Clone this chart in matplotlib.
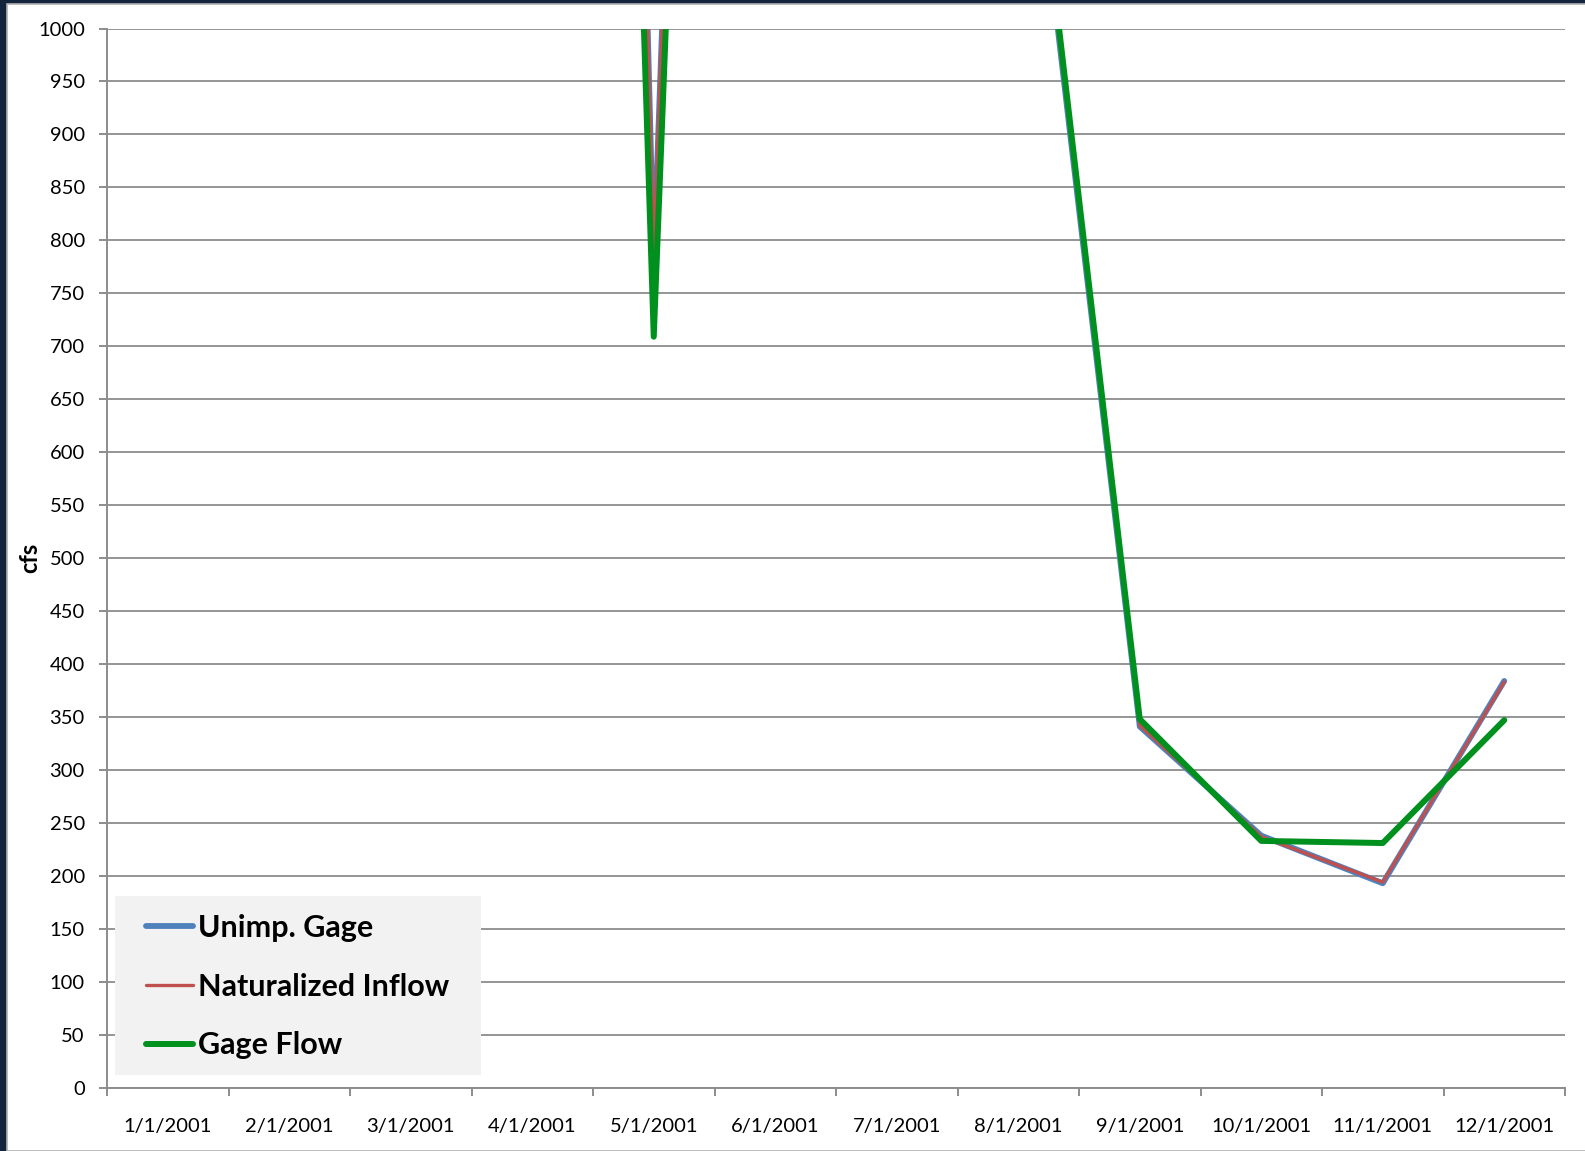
import matplotlib
matplotlib.use("Agg")
import matplotlib.pyplot as plt
from matplotlib.patches import Rectangle

# Monthly flows (cfs), 2001
months = ["1/1/2001", "2/1/2001", "3/1/2001", "4/1/2001", "5/1/2001", "6/1/2001",
          "7/1/2001", "8/1/2001", "9/1/2001", "10/1/2001", "11/1/2001", "12/1/2001"]
unimp_gage = [1650, 1900, 2600, 5200, 780, 4000, 2400, 1318, 341, 238, 193, 384]
naturalized_inflow = [1640, 1890, 2580, 5100, 785, 3950, 2380, 1322, 342, 237, 194, 383]
gage_flow = [1600, 1850, 2500, 4300, 709, 3650, 2300, 1330, 348, 233, 231, 347]

y_ticks = list(range(0, 1001, 50))

FONT = ["Lato", "DejaVu Sans"]
plt.rcParams["font.family"] = FONT

W, H = 1585, 1151
fig = plt.figure(figsize=(W / 100, H / 100), dpi=100, facecolor="#13253b")

# white slide panel on the dark background
fig.patches.append(Rectangle((7 / W, 0), 1.0, (H - 4) / H, transform=fig.transFigure,
                             facecolor="white", edgecolor="#b0b0b0", linewidth=1.2, zorder=-5))

ax = fig.add_axes([107 / W, (H - 1087.7) / H, (1565 - 107) / W, (1087.7 - 28.5) / H])
ax.set_zorder(2)
ax.set_facecolor("white")

x = list(range(len(months)))
ax.plot(x, unimp_gage, color="#4F81BD", lw=4.2, solid_capstyle="round",
        solid_joinstyle="round", label="Unimp. Gage", zorder=3)
ax.plot(x, naturalized_inflow, color="#C0504D", lw=2.4, solid_capstyle="round",
        solid_joinstyle="round", label="Naturalized Inflow", zorder=4)
ax.plot(x, gage_flow, color="#00901E", lw=4.3, solid_capstyle="round",
        solid_joinstyle="round", label="Gage Flow", zorder=5)

ax.set_ylim(0, 1000)
ax.set_xlim(-0.5, len(months) - 0.5)
ax.set_yticks(y_ticks)
ax.set_yticklabels([str(v) for v in y_ticks])

# category boundaries carry tick marks, labels sit at category centres
ax.set_xticks([i - 0.5 for i in range(len(months) + 1)])
ax.set_xticklabels([])
ax.set_xticks(x, minor=True)
ax.set_xticklabels(months, minor=True)
ax.tick_params(axis="x", which="major", length=6, width=1.4, color="#8c8c8c", direction="out")
ax.tick_params(axis="x", which="minor", length=0, pad=22, labelsize=14.5, labelcolor="black")
ax.tick_params(axis="y", length=6, width=1.4, color="#8c8c8c", direction="out", pad=10,
               labelsize=14.5, labelcolor="black")

ax.grid(axis="y", color="#8c8c8c", linewidth=1.3, zorder=1)
ax.set_axisbelow(True)
for side in ("top", "right"):
    ax.spines[side].set_visible(False)
for side in ("left", "bottom"):
    ax.spines[side].set_color("#8c8c8c")
    ax.spines[side].set_linewidth(1.4)

ax.set_ylabel("cfs", fontsize=17, fontweight="bold")
ax.yaxis.set_label_coords(-0.045, 0.5)

# legend panel
ax.add_patch(Rectangle((0.0055, 0.012), 0.251, 0.169, transform=ax.transAxes,
                       facecolor="#F2F2F2", edgecolor="none", zorder=6))
leg = ax.legend(loc="center left", bbox_to_anchor=(0.0265, 0.0954), borderaxespad=0,
                borderpad=0, frameon=False,
                prop={"family": FONT, "weight": "bold", "size": 22},
                handlelength=1.55, handletextpad=0.17, labelspacing=1.0)
leg.set_zorder(7)

fig.savefig("out.png", dpi=100, facecolor=fig.get_facecolor())
